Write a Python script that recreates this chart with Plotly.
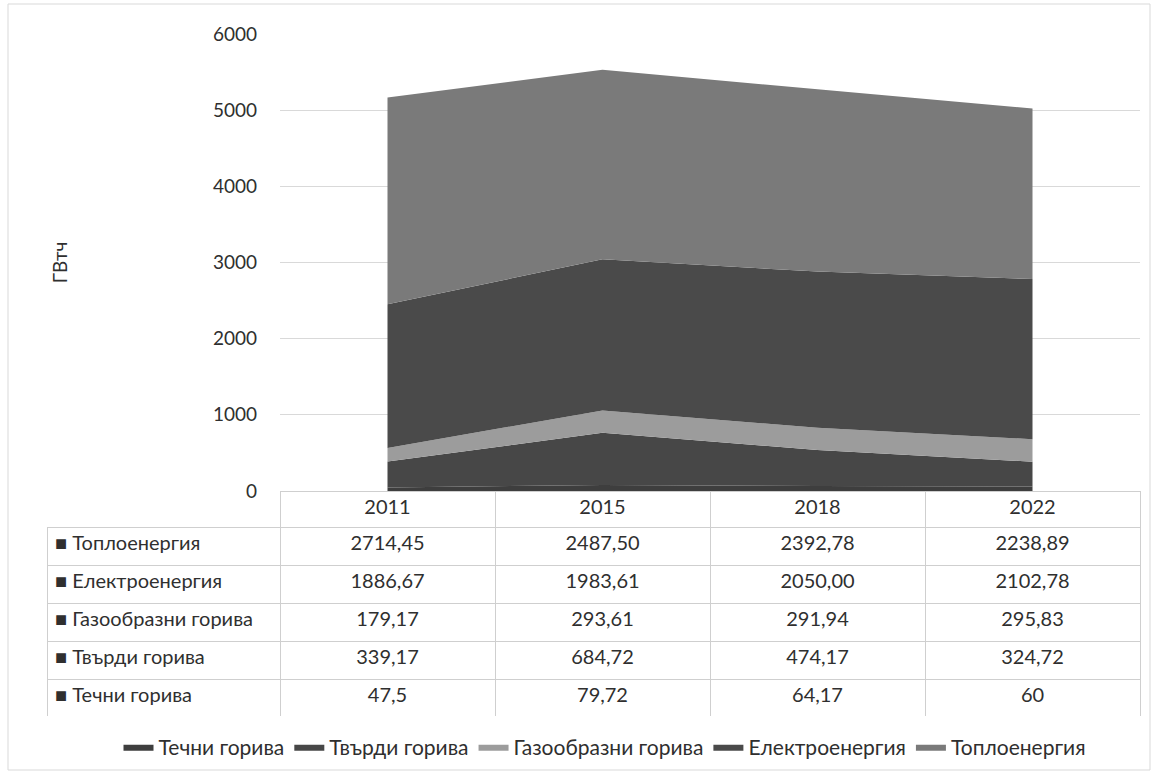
import plotly.graph_objects as go

years = ["2011", "2015", "2018", "2022"]
series_names = ["Течни горива", "Твърди горива", "Газообразни горива", "Електроенергия", "Топлоенергия"]
liquid = [47.5, 79.72, 64.17, 60]
solid = [339.17, 684.72, 474.17, 324.72]
gas = [179.17, 293.61, 291.94, 295.83]
electricity = [1886.67, 1983.61, 2050.00, 2102.78]
heat = [2714.45, 2487.50, 2392.78, 2238.89]

liquid_lbl = ["47,5", "79,72", "64,17", "60"]
solid_lbl = ["339,17", "684,72", "474,17", "324,72"]
gas_lbl = ["179,17", "293,61", "291,94", "295,83"]
electricity_lbl = ["1886,67", "1983,61", "2050,00", "2102,78"]
heat_lbl = ["2714,45", "2487,50", "2392,78", "2238,89"]

y_ticks = [0, 1000, 2000, 3000, 4000, 5000, 6000]
y_title = "ГВтч"

colors = ["#3e3e3e", "#474747", "#9c9c9c", "#4a4a4a", "#7a7a7a"]
FONT = "Lato"
TXT = "#2f2f2f"
W, H = 1160, 779

def px(x):
    return x / W

def py(y):
    return 1 - y / H

fig = go.Figure()
values = [liquid, solid, gas, electricity, heat]
for name, vals, col in zip(series_names, values, colors):
    fig.add_trace(go.Scatter(
        x=years, y=vals, name=name, mode="lines", stackgroup="one",
        line=dict(width=0, color=col), fillcolor=col,
    ))

# Data table below the plot
rows_top_to_bottom = [
    (series_names[4], heat_lbl),
    (series_names[3], electricity_lbl),
    (series_names[2], gas_lbl),
    (series_names[1], solid_lbl),
    (series_names[0], liquid_lbl),
]
first_col = ["■ " + n for n, _ in rows_top_to_bottom]
cols = [first_col] + [[r[1][i] for r in rows_top_to_bottom] for i in range(4)]

fig.add_trace(go.Table(
    domain=dict(x=[px(47), px(1140)], y=[py(716), py(491)]),
    columnwidth=[233, 215, 215, 215, 215],
    header=dict(
        values=[""] + years,
        align="center",
        height=36,
        font=dict(family=FONT, size=20, color=TXT),
        line=dict(color=["rgba(0,0,0,0)", "#cfcfcf", "#cfcfcf", "#cfcfcf", "#cfcfcf"], width=1),
        fill=dict(color=["rgba(0,0,0,0)", "white", "white", "white", "white"]),
    ),
    cells=dict(
        values=cols,
        align=["left", "center", "center", "center", "center"],
        height=38,
        font=dict(family=FONT, size=20, color=TXT),
        line=dict(color="#cfcfcf", width=1),
        fill=dict(color="white"),
    ),
))

fig.update_layout(
    width=W, height=H,
    margin=dict(l=0, r=0, t=0, b=0),
    paper_bgcolor="white", plot_bgcolor="white",
    font=dict(family=FONT, size=20, color=TXT),
    xaxis=dict(
        domain=[px(280), px(1140)], range=[-0.5, 3.5],
        showticklabels=False, showgrid=False, zeroline=False,
        showline=False, fixedrange=True,
    ),
    yaxis=dict(
        domain=[py(491), py(34)], range=[0, 6000],
        tickvals=y_ticks, ticktext=[str(v) for v in y_ticks],
        showgrid=True, gridcolor="#d9d9d9", gridwidth=1,
        zeroline=False, showline=False,
        ticklabelstandoff=22,
        tickfont=dict(family=FONT, size=19, color=TXT),
        title=dict(text=y_title, standoff=140, font=dict(family=FONT, size=19, color=TXT)),
        automargin=False,
    ),
    showlegend=True,
    legend=dict(
        orientation="h", traceorder="normal",
        x=px(605), xanchor="center", y=py(747), yanchor="middle",
        font=dict(family=FONT, size=21, color=TXT),
        itemwidth=30,
    ),
    shapes=[dict(
        type="rect", xref="paper", yref="paper",
        x0=px(8), x1=px(1150), y0=py(770), y1=py(4),
        line=dict(color="#d9d9d9", width=1), fillcolor="rgba(0,0,0,0)",
        layer="below",
    )],
)

fig.write_html("out.html", config={"displayModeBar": False},
               post_script="document.body.style.margin='0px';")
